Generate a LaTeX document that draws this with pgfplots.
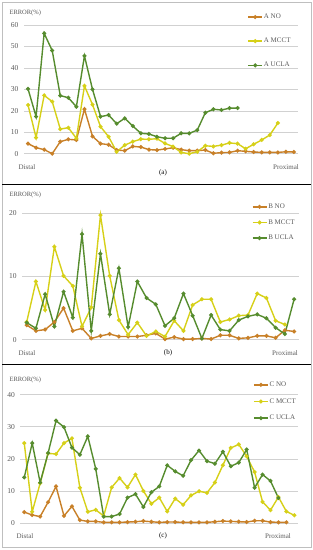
\documentclass[border=0pt]{standalone}
\usepackage{pgfplots}
\pgfplotsset{compat=1.18}
\usepackage{fontspec}
\setmainfont{Liberation Serif}
\definecolor{cNO}{RGB}{200,128,40}
\definecolor{cMC}{RGB}{214,208,24}
\definecolor{cUC}{RGB}{86,140,46}
\definecolor{txt}{RGB}{89,89,89}
\pgfplotsset{
  panel/.style={
    scale only axis,
    axis line style={draw=none},
    major tick length=0pt,
    xtick=\empty,
    ymajorgrids,
    grid style={draw=black!18, line width=0.6pt},
    ymin=0,
    clip=false,
    /pgf/number format/assume math mode=true,
    tick label style={font=\fontsize{7.5}{8}\selectfont, text=txt},
    yticklabel style={xshift=-2pt},
    every axis plot/.append style={line width=1.4pt, mark=*, mark size=1.25pt},
    legend cell align=left,
    legend style={draw=none, fill=none, anchor=north west, inner sep=0pt,
      font=\fontsize{7}{8}\selectfont, text=txt,
      nodes={inner sep=1pt}},
    legend image code/.code={\draw[mark repeat=2,mark phase=2,##1] plot coordinates {(0pt,0pt) (7pt,0pt) (14pt,0pt)};},
  }
}
\begin{document}
\begin{tikzpicture}
\path[use as bounding box] (0pt,0pt) rectangle (313pt,550pt);
\draw[black!25, line width=0.6pt] (2pt,2.5pt) rectangle (311pt,548pt);
\draw[black, line width=0.9pt] (2pt,365.7pt) -- (311pt,365.7pt);
\draw[black, line width=0.9pt] (2pt,185.7pt) -- (311pt,185.7pt);

% ---------- panel (a)
\begin{axis}[panel, at={(24pt,396.3pt)}, anchor=south west, width=274pt, height=128.7pt,
  xmin=-0.5, xmax=33.5, ymax=60, ytick={0,10,...,60},
  legend style={at={(0.815,1.095)}, row sep=16pt}]
\addplot[color=cNO] coordinates {(0,4.7)(1,2.8)(2,1.9)(3,0)(4,5.6)(5,6.7)(6,6.4)(7,20.8)(8,8.1)(9,4.7)(10,4.2)(11,1.7)(12,1.4)(13,3.4)(14,3.1)(15,1.9)(16,1.7)(17,2.2)(18,2.8)(19,1.9)(20,1.4)(21,1.4)(22,1.7)(23,0.2)(24,0.5)(25,0.6)(26,1.4)(27,1.1)(28,0.8)(29,0.6)(30,0.6)(31,0.6)(32,0.9)(33,0.8)};
\addlegendentry{A NO}
\addplot[color=cMC] coordinates {(0,22.7)(1,7.5)(2,27.2)(3,24.3)(4,11.5)(5,12.1)(6,7.2)(7,31.6)(8,22.9)(9,12.6)(10,7.9)(11,0.9)(12,4.0)(13,5.6)(14,6.8)(15,6.7)(16,7.0)(17,4.8)(18,3.3)(19,0.6)(20,0)(21,0.9)(22,3.7)(23,3.4)(24,4.0)(25,5.0)(26,4.7)(27,2.3)(28,4.4)(29,6.4)(30,8.7)(31,14.3)};
\addlegendentry{A MCCT}
\addplot[color=cUC] coordinates {(0,30.2)(1,17.3)(2,56.1)(3,48.1)(4,27.1)(5,26.1)(6,21.9)(7,45.6)(8,30.0)(9,17.3)(10,18.0)(11,14.0)(12,16.5)(13,12.9)(14,9.5)(15,9.2)(16,7.9)(17,7.2)(18,7.2)(19,9.5)(20,9.5)(21,11.0)(22,19.1)(23,20.7)(24,20.4)(25,21.2)(26,21.3)};
\addlegendentry{A UCLA}
\end{axis}
\node[anchor=west, font=\fontsize{6.5}{7}\selectfont, text=txt] at (6pt,537pt) {ERROR(\%)};
\node[font=\fontsize{7}{8}\selectfont, text=txt] at (27pt,383pt) {Distal};
\node[font=\fontsize{7}{8}\selectfont, text=txt] at (286pt,383pt) {Proximal};
\node[font=\fontsize{7}{8}\selectfont, text=black] at (163pt,377pt) {(a)};

% ---------- panel (b)
\begin{axis}[panel, at={(22.1pt,210.3pt)}, anchor=south west, width=276.6pt, height=126.4pt,
  xmin=-0.5, xmax=29.5, ymax=20, ytick={0,10,20},
  legend style={at={(0.83,1.085)}, row sep=7.5pt}]
\addplot[color=cNO] coordinates {(0,2.3)(1,1.4)(2,1.6)(3,2.8)(4,5.0)(5,1.4)(6,1.8)(7,0.2)(8,0.6)(9,0.9)(10,0.5)(11,0.5)(12,0.5)(13,0.7)(14,1.0)(15,0.1)(16,0.4)(17,0.1)(18,0.1)(19,0.2)(20,0.1)(21,0.7)(22,0.7)(23,0.2)(24,0.3)(25,0.6)(26,0.6)(27,0.3)(28,1.5)(29,1.3)};
\addlegendentry{B NO}
\addplot[color=cMC] coordinates {(0,2.8)(1,9.2)(2,4.7)(3,14.7)(4,10.1)(5,8.5)(6,2.1)(7,5.1)(8,19.7)(9,10.1)(10,3.1)(11,0.8)(12,2.7)(13,0.6)(14,1.3)(15,0.5)(16,3.0)(17,1.4)(18,5.5)(19,6.4)(20,6.4)(21,2.8)(22,3.2)(23,3.8)(24,3.9)(25,7.3)(26,6.6)(27,3.0)(28,2.4)};
\addlegendentry{B MCCT}
\addplot[color=cUC] coordinates {(0,2.7)(1,1.8)(2,7.2)(3,2.1)(4,7.6)(5,3.5)(6,16.7)(7,1.4)(8,13.6)(9,4.0)(10,11.3)(11,2.0)(12,9.2)(13,6.6)(14,5.6)(15,2.2)(16,3.4)(17,7.3)(18,3.8)(19,0.2)(20,3.9)(21,1.6)(22,1.4)(23,3.1)(24,3.7)(25,4.0)(26,3.4)(27,1.9)(28,0.9)(29,6.4)};
\addlegendentry{B UCLA}
\end{axis}
\node[anchor=west, font=\fontsize{6.5}{7}\selectfont, text=txt] at (6pt,355pt) {ERROR(\%)};
\node[font=\fontsize{7}{8}\selectfont, text=txt] at (27pt,196.7pt) {Distal};
\node[font=\fontsize{7}{8}\selectfont, text=txt] at (285pt,196.7pt) {Proximal};
\node[font=\fontsize{7}{8}\selectfont, text=black] at (168pt,196.7pt) {(b)};

% ---------- panel (c)
\begin{axis}[panel, at={(20.3pt,27pt)}, anchor=south west, width=278pt, height=128.3pt,
  xmin=-0.5, xmax=34.5, ymax=40, ytick={0,10,...,40},
  legend style={at={(0.837,1.11)}, row sep=8.5pt}]
\addplot[color=cNO] coordinates {(0,3.4)(1,2.5)(2,2.0)(3,6.5)(4,11.4)(5,2.2)(6,5.2)(7,0.9)(8,0.5)(9,0.5)(10,0.2)(11,0.2)(12,0.2)(13,0.3)(14,0.4)(15,0.6)(16,0.4)(17,0.2)(18,0.3)(19,0.3)(20,0.2)(21,0.2)(22,0.2)(23,0.2)(24,0.4)(25,0.6)(26,0.5)(27,0.4)(28,0.3)(29,0.7)(30,0.7)(31,0.3)(32,0.2)(33,0.2)};
\addlegendentry{C NO}
\addplot[color=cMC] coordinates {(0,24.9)(1,3.5)(2,12.4)(3,21.7)(4,21.5)(5,24.9)(6,26.4)(7,11.0)(8,3.5)(9,4.1)(10,2.2)(11,11.1)(12,14.0)(13,11.1)(14,15.1)(15,10.0)(16,6.0)(17,7.9)(18,3.6)(19,7.6)(20,5.7)(21,8.6)(22,9.9)(23,9.4)(24,12.6)(25,18.0)(26,23.4)(27,24.5)(28,20.8)(29,15.9)(30,6.6)(31,4.0)(32,8.1)(33,3.6)(34,2.4)};
\addlegendentry{C MCCT}
\addplot[color=cUC] coordinates {(0,14.2)(1,24.9)(2,12.6)(3,21.8)(4,31.9)(5,29.9)(6,23.5)(7,21.3)(8,27.0)(9,16.9)(10,2.0)(11,2.0)(12,2.8)(13,7.9)(14,9.0)(15,5.0)(16,9.6)(17,11.4)(18,18.0)(19,16.1)(20,14.7)(21,19.6)(22,22.6)(23,19.3)(24,18.5)(25,22.2)(26,17.7)(27,18.8)(28,22.9)(29,11.0)(30,15.1)(31,13.1)(32,7.8)};
\addlegendentry{C UCLA}
\end{axis}
\node[anchor=west, font=\fontsize{6.5}{7}\selectfont, text=txt] at (6pt,170pt) {ERROR(\%)};
\node[font=\fontsize{7}{8}\selectfont, text=txt] at (25pt,14.3pt) {Distal};
\node[font=\fontsize{7}{8}\selectfont, text=txt] at (278pt,14.3pt) {Proximal};
\node[font=\fontsize{7}{8}\selectfont, text=black] at (163pt,14.3pt) {(c)};
\end{tikzpicture}
\end{document}
